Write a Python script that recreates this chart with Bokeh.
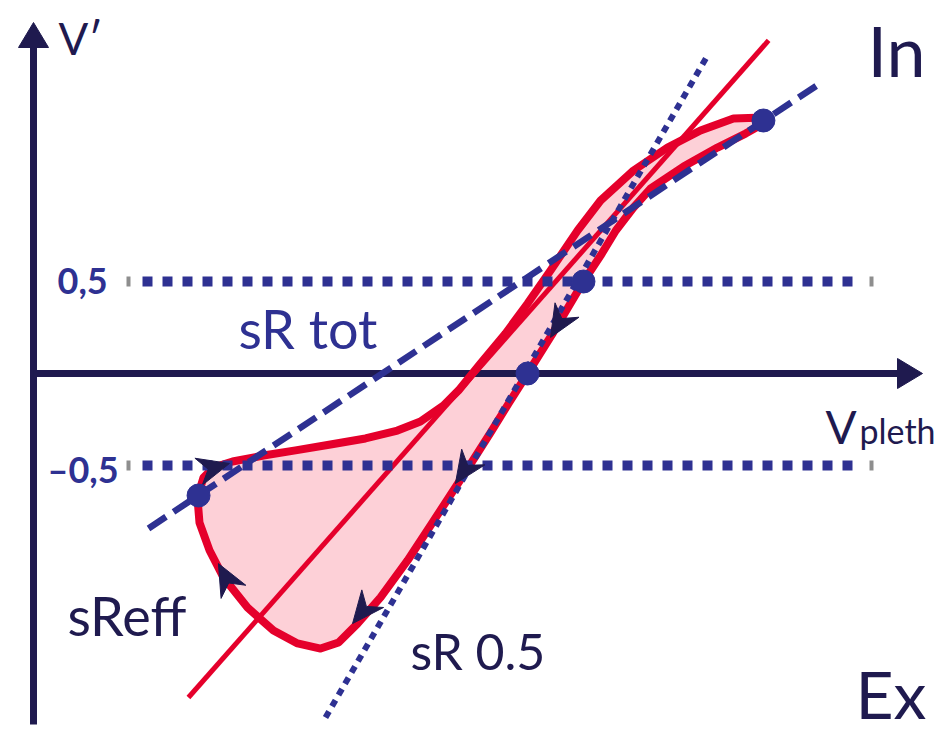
from bokeh.plotting import figure
from bokeh.models import Range1d, Label
from bokeh.embed import file_html
from bokeh.resources import INLINE
import numpy as np

NAVY = "#1f1a4f"
BLUE = "#2e3192"
RED = "#e5002b"
PINK = "#fdd0d7"
GRAY = "#8e8e8e"
FONT = "Lato"

# Flow-volume loop (Vpleth on x, V' on y); same unit on both axes.
loop_vpleth = [3.967, 3.804, 3.625, 3.446, 3.261, 3.082, 2.957, 2.810, 2.685, 2.565,
               2.429, 2.310, 2.228, 2.103, 1.978, 1.804, 1.614, 1.424, 1.250, 1.082,
               0.978, 0.924, 0.891, 0.902, 0.957, 1.033, 1.163, 1.304, 1.435, 1.560,
               1.658, 1.761, 1.886, 2.033, 2.158, 2.353, 2.484, 2.582, 2.685, 2.815,
               2.989, 3.082, 3.165, 3.261, 3.353, 3.533, 3.717, 3.870, 3.967]
loop_vprime = [1.391, 1.386, 1.321, 1.228, 1.103, 0.940, 0.777, 0.560, 0.380, 0.217,
               0.054, -0.092, -0.174, -0.261, -0.310, -0.353, -0.386, -0.418, -0.446, -0.478,
               -0.511, -0.565, -0.674, -0.810, -0.962, -1.109, -1.272, -1.397, -1.467, -1.495,
               -1.462, -1.359, -1.217, -1.016, -0.826, -0.527, -0.321, -0.163, 0.000, 0.207,
               0.500, 0.641, 0.777, 0.902, 1.005, 1.125, 1.228, 1.304, 1.359]

# Slope lines
sreff_x = [0.842, 3.995]
sreff_y = [-1.761, 1.810]
srtot_x = [0.625, 4.266]
srtot_y = [-0.842, 1.571]
sr05_x = [1.587, 3.663]
sr05_y = [-1.870, 1.728]

# Reference levels of V'
levels = [0.5, -0.5]
level_labels = ["0,5", "–0,5"]

# Marked points on the loop
point_vpleth = [3.967, 2.989, 2.685, 0.897]
point_vprime = [1.375, 0.5, 0.0, -0.663]

# Direction arrows along the loop (tip position, heading in degrees)
arrow_vpleth = [1.065, 1.005, 2.810, 2.293, 1.734]
arrow_vprime = [-0.489, -1.033, 0.196, -0.598, -1.359]
arrow_heading = [15, 118, -121, -124, -129]

PX = 184.0  # pixels per unit

p = figure(width=941, height=732,
           x_range=Range1d(-33 / PX, 908 / PX), y_range=Range1d(-359 / PX, 373 / PX),
           output_backend="svg", toolbar_location=None, min_border=0,
           x_axis_type=None, y_axis_type=None)
p.grid.visible = False
p.outline_line_color = None
p.background_fill_color = "white"

# loop fill
p.patch(loop_vpleth, loop_vprime, fill_color=PINK, line_color=None)

# coordinate axes with arrowheads
y_bot, y_tip = -351 / PX, 351 / PX
x_tip = 889 / PX
head_len, head_half = 25 / PX, 15 / PX
p.segment(x0=[0, 0], y0=[y_bot, 0], x1=[0, x_tip - head_len], y1=[y_tip - head_len, 0],
          line_color=NAVY, line_width=7)
p.patches([[0, -head_half, head_half], [x_tip, x_tip - head_len, x_tip - head_len]],
          [[y_tip, y_tip - head_len, y_tip - head_len], [0, head_half, -head_half]],
          fill_color=NAVY, line_color=NAVY)

# loop outline
p.line(loop_vpleth + loop_vpleth[:1], loop_vprime + loop_vprime[:1],
       line_color=RED, line_width=8, line_join="round")

# sReff regression line
p.line(sreff_x, sreff_y, line_color=RED, line_width=5)

# dotted level lines with grey end ticks
lx0, lx1 = 109 / PX, 827 / PX
for lv in levels:
    p.line([lx0, lx1], [lv, lv], line_color=BLUE, line_width=10, line_dash="10 10")
p.rect(x=[95 / PX, 838 / PX] * 2, y=[levels[0]] * 2 + [levels[1]] * 2,
       width=4, height=10, width_units="screen", height_units="screen",
       fill_color=GRAY, line_color=None)

# sRtot and sR0.5 lines
p.line(srtot_x, srtot_y, line_color=BLUE, line_width=6.5, line_dash="21 9")
p.line(sr05_x, sr05_y, line_color=BLUE, line_width=6, line_dash="7 6")


def stealth(x, y, deg, length=32 / PX, half=14 / PX, notch=10 / PX):
    t = np.radians(deg)
    ux, uy = np.cos(t), np.sin(t)
    nx, ny = -uy, ux
    bx, by = x - length * ux, y - length * uy
    xs = [x, bx + half * nx, x - (length - notch) * ux, bx - half * nx]
    ys = [y, by + half * ny, y - (length - notch) * uy, by - half * ny]
    return xs, ys


heads = [stealth(x, y, d) for x, y, d in zip(arrow_vpleth, arrow_vprime, arrow_heading)]
p.patches([h[0] for h in heads], [h[1] for h in heads], fill_color=NAVY, line_color=NAVY)

# marked points
p.scatter(point_vpleth, point_vprime, size=23, fill_color=BLUE, line_color=BLUE)


def label(x, y, text, size, color, bold=False, baseline="alphabetic", y_off=None):
    if y_off is None:
        y_off = round(0.4 * size)
    p.add_layout(Label(x=x, y=y, text=text, text_font=FONT, text_font_size=f"{size}px",
                       text_color=color, text_font_style="bold" if bold else "normal",
                       text_baseline=baseline, text_align="left", y_offset=y_off))


label(25 / PX, 318 / PX, "V′", 44, NAVY)
label(834 / PX, 296 / PX, "In", 70, NAVY)
label(822 / PX, -346 / PX, "Ex", 66, NAVY)
label(792 / PX, -71 / PX, "V", 46, NAVY)
label(826 / PX, -71 / PX, "pleth", 34, NAVY)
label(205 / PX, 23 / PX, "sR tot", 54, BLUE)
label(34 / PX, -264 / PX, "sReff", 54, NAVY)
label(377 / PX, -297 / PX, "sR 0.5", 50, NAVY)
label(24 / PX, levels[0], level_labels[0], 36, BLUE, bold=True, baseline="middle", y_off=1)
label(14 / PX, levels[1], level_labels[1], 36, BLUE, bold=True, baseline="middle", y_off=-3)

open("out.html", "w").write(file_html(p, INLINE))
